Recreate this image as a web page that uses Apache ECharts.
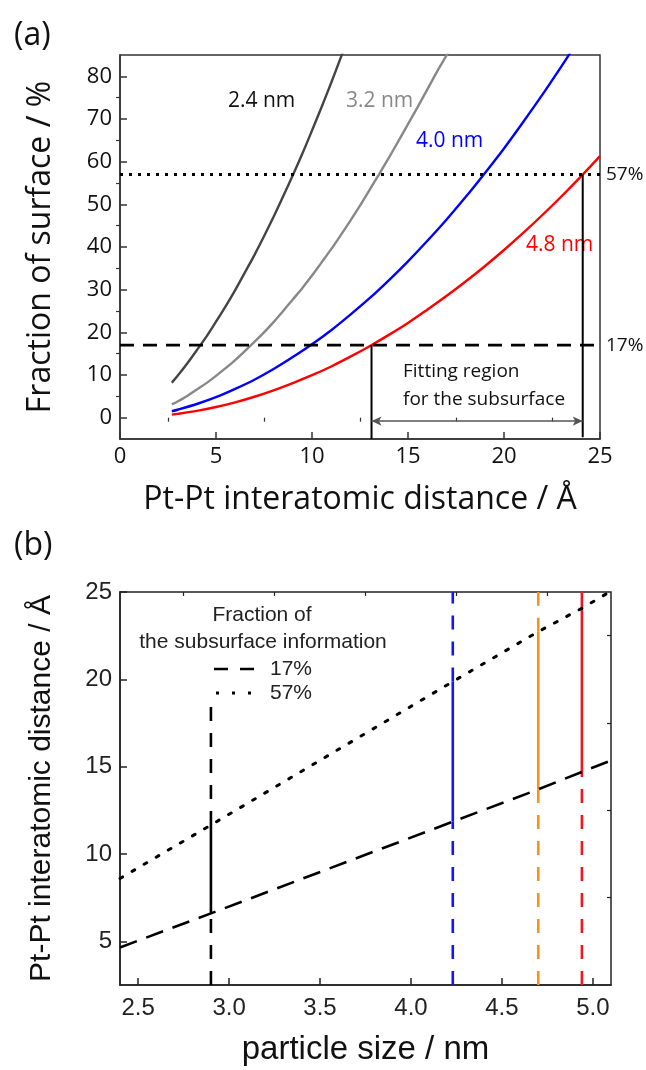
<!DOCTYPE html>
<html><head><meta charset="utf-8">
<script src="https://cdn.jsdelivr.net/npm/echarts@6/dist/echarts.min.js"></script>
<style>html,body{margin:0;padding:0;background:#fff}#c{width:646px;height:1070px}</style>
</head><body><div id="c"></div>
<script>
// ---------- Panel (a) data ----------
const curveX24 = [2.7, 3, 3.5, 4, 4.5, 5, 5.5, 6, 6.5, 7, 7.5, 8, 8.5, 9, 9.5, 10, 10.5, 11, 11.6];
const curveY24 = [8.2, 9.8, 12.7, 15.8, 19.0, 22.5, 26.1, 29.9, 34.0, 38.1, 42.5, 47.1, 51.9, 56.8, 61.9, 67.3, 72.8, 78.5, 85.6];
const curveX32 = [2.7, 3, 3.5, 4, 4.5, 5, 5.5, 6, 6.5, 7, 7.5, 8, 8.5, 9, 9.5, 10, 10.5, 11, 11.5, 12, 12.5, 13, 13.5, 14, 14.5, 15, 15.5, 16, 16.5, 17.1];
const curveY32 = [3.1, 3.8, 5.1, 6.6, 8.1, 9.8, 11.6, 13.5, 15.6, 17.75, 20.0, 22.4, 25.0, 27.7, 30.4, 33.3, 36.4, 39.5, 42.8, 46.2, 49.7, 53.4, 57.1, 60.9, 64.8, 68.8, 72.8, 76.9, 81.0, 85.6];
const curveX40 = [2.7, 3, 4, 5, 6, 7, 8, 9, 10, 11, 12, 13, 14, 15, 16, 17, 18, 19, 20, 21, 22, 23, 23.5];
const curveY40 = [1.5, 1.85, 3.2, 4.8, 6.75, 8.9, 11.4, 14.2, 17.2, 20.5, 24.15, 28.0, 32.2, 36.65, 41.4, 46.4, 51.7, 57.3, 63.1, 69.3, 75.7, 82.4, 85.85];
const curveX48 = [2.7, 3, 4, 5, 6, 7, 8, 9, 10, 11, 12, 13, 14, 15, 16, 17, 18, 19, 20, 21, 22, 23, 24, 25];
const curveY48 = [0.7, 0.88, 1.6, 2.5, 3.6, 4.9, 6.4, 8.1, 9.95, 12.0, 14.3, 16.75, 19.4, 22.2, 25.3, 28.5, 31.9, 35.5, 39.3, 43.3, 47.5, 51.9, 56.5, 61.3];
const curveNames = ['2.4 nm', '3.2 nm', '4.0 nm', '4.8 nm'];
const levelValues = [17, 57];
const levelLabels = ['17%', '57%'];
const fitX = [13.1, 24.1];      // fitting region limits (Å)
const fitTopY = [17, 57];       // upper ends of the vertical markers
const fitBottomY = [-5, -4.6];  // lower ends of the vertical markers
const arrowY = -0.8;
const xTicksA = [0, 5, 10, 15, 20, 25];
const xMinorA = [2.5, 7.5, 12.5, 17.5, 22.5];
const yTicksA = [0, 10, 20, 30, 40, 50, 60, 70, 80];
const yMinorA = [5, 15, 25, 35, 45, 55, 65, 75];

// ---------- Panel (b) data ----------
const diagX = [2.4, 2.90, 4.23, 4.70, 4.94, 5.1];
const diag17Y = [4.65, 6.6, 11.85, 13.7, 14.7, 15.35];
const diag57Y = [8.6, 11.66, 19.87, 22.73, 24.07, 25.05];
const sizes = [2.90, 4.23, 4.70, 4.94];
const sizeAt17 = [6.6, 11.85, 13.7, 14.7];
const sizeAt57 = [11.66, 19.87, 22.73, 24.07];
const xTicksB = [2.5, 3.0, 3.5, 4.0, 4.5, 5.0];
const xMinorB = [2.75, 3.25, 3.75, 4.25, 4.75];
const yTicksB = [5, 10, 15, 20, 25];
const yMinorB = [7.5, 12.5, 17.5, 22.5];

const curveColors = ['#444444', '#888888', '#0000ff', '#ff0000'];
const sizeColors = ['#000000', '#1515f0', '#f3921f', '#ea1a1f'];
const FA = 'Open Sans';
const FB = 'Liberation Sans';

function zip(xs, ys) { return xs.map((x, i) => [x, ys[i]]); }

const chart = echarts.init(document.getElementById('c'), null, {renderer: 'canvas'});

const axisCommon = (col) => ({
  axisLine: {show: true, onZero: false, lineStyle: {color: col, width: 1.5}},
  splitLine: {show: false}
});

const series = [];
// curves
[[curveX24, curveY24], [curveX32, curveY32], [curveX40, curveY40], [curveX48, curveY48]].forEach((c, i) => {
  series.push({type: 'line', xAxisIndex: 0, yAxisIndex: 0, name: curveNames[i], data: zip(c[0], c[1]),
    smooth: 0.3, showSymbol: false, lineStyle: {color: curveColors[i], width: 2.4}, z: 3});
});
// horizontal level lines
series.push({type: 'line', xAxisIndex: 0, yAxisIndex: 0, data: [[0, levelValues[0]], [25, levelValues[0]]],
  showSymbol: false, lineStyle: {color: '#000', width: 2.6, type: [14, 9]},
  endLabel: {show: true, formatter: levelLabels[0], distance: 6, fontFamily: FA, fontSize: 19, color: '#111'}, z: 4});
series.push({type: 'line', xAxisIndex: 0, yAxisIndex: 0, data: [[0, levelValues[1]], [25, levelValues[1]]],
  showSymbol: false, lineStyle: {color: '#000', width: 3, type: [3, 6]},
  endLabel: {show: true, formatter: levelLabels[1], distance: 6, fontFamily: FA, fontSize: 19, color: '#111'}, z: 4});
// fitting-region verticals
fitX.forEach((x, i) => {
  series.push({type: 'line', xAxisIndex: 0, yAxisIndex: 0, data: [[x, fitBottomY[i]], [x, fitTopY[i]]],
    showSymbol: false, lineStyle: {color: '#000', width: 2}, z: 4});
});
// double arrow
series.push({type: 'line', xAxisIndex: 0, yAxisIndex: 0, data: [], showSymbol: false,
  markLine: {silent: true, symbol: ['arrow', 'arrow'], symbolSize: [7, 10],
    lineStyle: {color: '#555', width: 1.5, type: 'solid'}, label: {show: false},
    data: [[{coord: [fitX[0], arrowY]}, {coord: [fitX[1], arrowY]}]]}});

// Panel (b)
series.push({type: 'line', xAxisIndex: 2, yAxisIndex: 2, data: zip(diagX, diag17Y), showSymbol: false,
  lineStyle: {color: '#000', width: 2.6, type: [18, 10]}, z: 3});
series.push({type: 'line', xAxisIndex: 2, yAxisIndex: 2, data: zip(diagX, diag57Y), showSymbol: false,
  lineStyle: {color: '#000', width: 3, type: [3, 11], cap: 'round'}, z: 3});
const yMinB = 2.5, yMaxB = 25;
sizes.forEach((x, i) => {
  const col = sizeColors[i];
  series.push({type: 'line', xAxisIndex: 2, yAxisIndex: 2, data: [[x, yMinB], [x, sizeAt17[i]]], showSymbol: false,
    lineStyle: {color: col, width: 2.6, type: [14, 12]}, z: 2});
  series.push({type: 'line', xAxisIndex: 2, yAxisIndex: 2, data: [[x, sizeAt17[i]], [x, sizeAt57[i]]], showSymbol: false,
    lineStyle: {color: col, width: 2.6}, z: 2});
  series.push({type: 'line', xAxisIndex: 2, yAxisIndex: 2, data: [[x, sizeAt57[i]], [x, yMaxB]], showSymbol: false,
    lineStyle: {color: col, width: 2.6, type: i === 3 ? 'solid' : [14, 12]}, z: 2});
});

const option = {
  animation: false,
  backgroundColor: '#fff',
  grid: [
    {left: 120, top: 55, width: 480, height: 384, show: true, borderColor: '#333', borderWidth: 1.5, backgroundColor: 'transparent'},
    {left: 120, top: 592, width: 491, height: 393, show: true, borderColor: '#222', borderWidth: 1.5, backgroundColor: 'transparent'}
  ],
  xAxis: [
    Object.assign(axisCommon('#333'), {type: 'value', gridIndex: 0, min: 0, max: 25,
      axisTick: {show: true, inside: true, length: 7, customValues: xTicksA, lineStyle: {color: '#333', width: 1.5}},
      axisLabel: {customValues: xTicksA, fontFamily: FA, fontSize: 22, color: '#111', margin: 7},
      name: 'Pt-Pt interatomic distance / Å', nameLocation: 'middle', nameGap: 45,
      nameTextStyle: {fontFamily: FA, fontSize: 32, color: '#111'}}),
    {type: 'value', gridIndex: 0, min: 0, max: 25, axisLine: {show: false}, splitLine: {show: false},
      axisTick: {show: true, inside: true, length: 4, customValues: xMinorA, lineStyle: {color: '#333', width: 1.2}},
      axisLabel: {show: false}},
    Object.assign(axisCommon('#222'), {type: 'value', gridIndex: 1, min: 2.4, max: 5.1,
      axisTick: {show: true, inside: true, length: 7, customValues: xTicksB, lineStyle: {color: '#222', width: 1.5}},
      axisLabel: {customValues: xTicksB, fontFamily: FB, fontSize: 24, color: '#222', margin: 11,
        formatter: v => v.toFixed(1)},
      name: 'particle size / nm', nameLocation: 'middle', nameGap: 48,
      nameTextStyle: {fontFamily: FB, fontSize: 33, color: '#111'}}),
    {type: 'value', gridIndex: 1, min: 2.4, max: 5.1, axisLine: {show: false}, splitLine: {show: false},
      axisTick: {show: true, inside: true, length: 4, customValues: xMinorB, lineStyle: {color: '#222', width: 1.2}},
      axisLabel: {show: false}}
  ],
  yAxis: [
    Object.assign(axisCommon('#333'), {type: 'value', gridIndex: 0, min: -5, max: 85,
      axisTick: {show: true, inside: true, length: 7, customValues: yTicksA, lineStyle: {color: '#333', width: 1.5}},
      axisLabel: {customValues: yTicksA, fontFamily: FA, fontSize: 22, color: '#111', margin: 8},
      name: 'Fraction of surface / %', nameLocation: 'middle', nameGap: 63,
      nameTextStyle: {fontFamily: FA, fontSize: 32, color: '#111'}}),
    {type: 'value', gridIndex: 0, min: -5, max: 85, axisLine: {show: false}, splitLine: {show: false},
      axisTick: {show: true, inside: true, length: 4, customValues: yMinorA, lineStyle: {color: '#333', width: 1.2}},
      axisLabel: {show: false}},
    Object.assign(axisCommon('#222'), {type: 'value', gridIndex: 1, min: 2.5, max: 25,
      axisTick: {show: true, inside: true, length: 7, customValues: yTicksB, lineStyle: {color: '#222', width: 1.5}},
      axisLabel: {customValues: yTicksB, fontFamily: FB, fontSize: 24, color: '#222', margin: 8},
      name: 'Pt-Pt interatomic distance / Å', nameLocation: 'middle', nameGap: 63,
      nameTextStyle: {fontFamily: FB, fontSize: 30, color: '#111'}}),
    {type: 'value', gridIndex: 1, min: 2.5, max: 25, axisLine: {show: false}, splitLine: {show: false},
      axisTick: {show: true, inside: true, length: 4, customValues: yMinorB, lineStyle: {color: '#222', width: 1.2}},
      axisLabel: {show: false}}
  ],
  series: series,
  graphic: [
    {type: 'text', left: 14, top: 20, style: {text: '(a)', fontFamily: FA, fontSize: 32, fill: '#111'}},
    {type: 'text', left: 14, top: 530, style: {text: '(b)', fontFamily: FA, fontSize: 32, fill: '#111'}},
    {type: 'text', left: 228, top: 91, style: {text: curveNames[0], fontFamily: FA, fontSize: 21, fill: '#111'}},
    {type: 'text', left: 346, top: 91, style: {text: curveNames[1], fontFamily: FA, fontSize: 21, fill: '#888'}},
    {type: 'text', left: 416, top: 131, style: {text: curveNames[2], fontFamily: FA, fontSize: 21, fill: '#0000ff'}},
    {type: 'text', left: 526, top: 235, style: {text: curveNames[3], fontFamily: FA, fontSize: 21, fill: '#ff0000'}},
    {type: 'text', left: 403, top: 362, style: {text: 'Fitting region', fontFamily: FA, fontSize: 19, fill: '#111'}},
    {type: 'text', left: 403, top: 390, style: {text: 'for the subsurface', fontFamily: FA, fontSize: 19, fill: '#111'}},
    // legend box of panel (b)
    {type: 'rect', shape: {x: 132, y: 601, width: 263, height: 102}, style: {fill: '#fff'}, z: 50},
    {type: 'text', x: 262, y: 615, style: {text: 'Fraction of', fontFamily: FB, fontSize: 21, fill: '#222', textAlign: 'center', textVerticalAlign: 'middle'}, z: 51},
    {type: 'text', x: 263, y: 642, style: {text: 'the subsurface information', fontFamily: FB, fontSize: 21, fill: '#222', textAlign: 'center', textVerticalAlign: 'middle'}, z: 51},
    {type: 'line', shape: {x1: 214, y1: 669, x2: 254, y2: 669}, style: {stroke: '#000', lineWidth: 2.6, lineDash: [14, 12]}, z: 51},
    {type: 'text', x: 270, y: 669, style: {text: '17%', fontFamily: FB, fontSize: 21, fill: '#222', textVerticalAlign: 'middle'}, z: 51},
    {type: 'line', shape: {x1: 216, y1: 693, x2: 252, y2: 693}, style: {stroke: '#000', lineWidth: 3, lineDash: [3, 13]}, z: 51},
    {type: 'text', x: 270, y: 693, style: {text: '57%', fontFamily: FB, fontSize: 21, fill: '#222', textVerticalAlign: 'middle'}, z: 51}
  ]
};
chart.setOption(option);
</script></body></html>
